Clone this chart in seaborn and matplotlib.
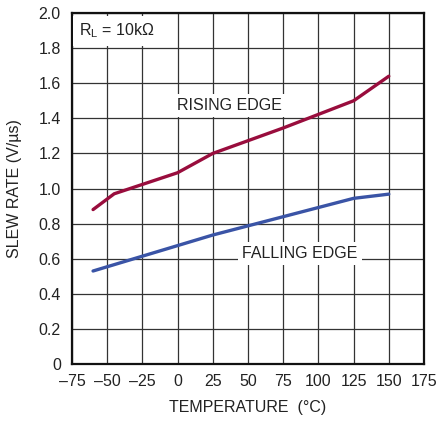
import pandas as pd
import matplotlib
matplotlib.use("Agg")
import matplotlib.pyplot as plt
import seaborn as sns

# data
rise_temp = [-60, -45, 0, 25, 75, 125, 150]
rise_rate = [0.88, 0.97, 1.09, 1.20, 1.345, 1.50, 1.64]
fall_temp = [-60, 25, 125, 150]
fall_rate = [0.53, 0.735, 0.944, 0.968]

x_ticks = [-75, -50, -25, 0, 25, 50, 75, 100, 125, 150, 175]
y_ticks = [0, 0.2, 0.4, 0.6, 0.8, 1.0, 1.2, 1.4, 1.6, 1.8, 2.0]
y_labels = ['0', '0.2', '0.4', '0.6', '0.8', '1.0', '1.2', '1.4', '1.6', '1.8', '2.0']

sns.set_style('white')
plt.rcParams['font.family'] = ['Liberation Sans Narrow', 'Liberation Sans', 'DejaVu Sans']

df_rise = pd.DataFrame({'temp': rise_temp, 'rate': rise_rate})
df_fall = pd.DataFrame({'temp': fall_temp, 'rate': fall_rate})

fig = plt.figure(figsize=(4.36, 4.21), dpi=100)
ax = fig.add_axes([0.165, 0.1354, 0.8075, 0.8336])

sns.lineplot(data=df_rise, x='temp', y='rate', ax=ax, color='#990d3d', linewidth=2.4, zorder=3)
sns.lineplot(data=df_fall, x='temp', y='rate', ax=ax, color='#3a54a6', linewidth=2.4, zorder=3)

ax.set_xlim(-75, 175)
ax.set_ylim(0, 2.0)
ax.set_xticks(x_ticks)
ax.set_xticklabels([str(t).replace('-', '\u2013') for t in x_ticks])
ax.set_yticks(y_ticks)
ax.set_yticklabels(y_labels)
ax.tick_params(length=0, labelsize=11.5, colors='#222222')
ax.tick_params(axis='x', pad=7)
ax.tick_params(axis='y', pad=8)
ax.grid(True, color='#333333', linewidth=0.9)
ax.set_axisbelow(True)
for s in ax.spines.values():
    s.set_linewidth(1.6)
    s.set_color('#111111')

ax.set_xlabel('TEMPERATURE  (°C)', fontsize=11.5, color='#222222', labelpad=8)
ax.set_ylabel('SLEW RATE (V/µs)', fontsize=11.5, color='#222222', labelpad=12)

box = dict(facecolor='white', edgecolor='none', pad=3)
ax.text(-70, 1.9, r'R$_\mathregular{L}$ = 10kΩ', fontsize=11.5, ha='left', va='center',
        color='#222222', bbox=dict(facecolor='white', edgecolor='none', pad=4), zorder=4)
ax.text(37, 1.475, 'RISING EDGE', fontsize=11.5, ha='center', va='center',
        color='#222222', bbox=box, zorder=4)
ax.text(87, 0.63, 'FALLING EDGE', fontsize=11.5, ha='center', va='center',
        color='#222222', bbox=box, zorder=4)

plt.savefig('out.png', dpi=100)
